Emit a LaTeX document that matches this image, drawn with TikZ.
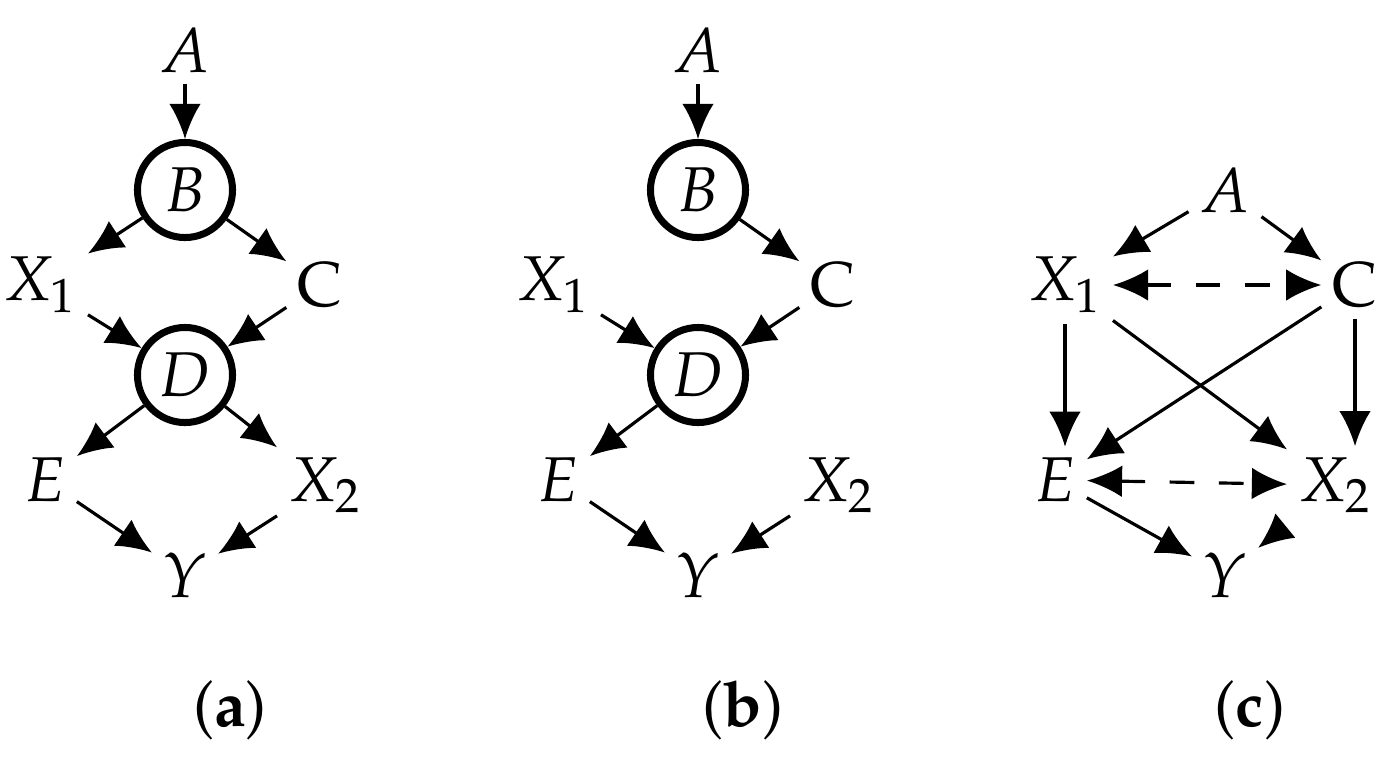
\documentclass[tikz,border=0pt]{standalone}
\usepackage[T1]{fontenc}
\usepackage{mathpazo}
\usetikzlibrary{positioning,arrows.meta}
\tikzset{var/.style={inner sep=3pt, font=\fontsize{18}{20}\selectfont},
  lat/.style={var, draw, circle, line width=2pt, minimum size=0.95cm, inner sep=1pt},
  arr/.style={-{Latex[length=10pt,width=9pt]}, line width=0.9pt},
  barr/.style={{Latex[length=10pt,width=9pt]}-{Latex[length=10pt,width=9pt]}, line width=0.9pt, dash pattern=on 7pt off 7pt},
  sublabel/.style={font=\fontsize{18}{20}\selectfont}}
\begin{document}
\begin{tikzpicture}[x=0.01cm,y=-0.01cm]
\useasboundingbox (0,0) rectangle (1397,757);
% (a)
\node[var](aA) at (185,50) {$A$};
\node[lat](aB) at (185,190) {$B$};
\node[var](aX1) at (40,285) {$X_1$};
\node[var](aC) at (320,285) {$\mathrm{C}$};
\node[lat](aD) at (185,375) {$D$};
\node[var](aE) at (45,480) {$E$};
\node[var](aX2) at (325,485) {$X_2$};
\node[var](aY) at (185,575) {$Y$};
\node[sublabel](la) at (230,710) {(\textbf{a})};
\draw[arr] (aA) -- (aB);
\draw[arr] (aB) -- (aX1);
\draw[arr] (aB) -- (aC);
\draw[arr] (aX1) -- (aD);
\draw[arr] (aC) -- (aD);
\draw[arr] (aD) -- (aE);
\draw[arr] (aD) -- (aX2);
\draw[arr] (aE) -- (aY);
\draw[arr] (aX2) -- (aY);
% (b)
\node[var](bA) at (698,50) {$A$};
\node[lat](bB) at (698,190) {$B$};
\node[var](bX1) at (553,285) {$X_1$};
\node[var](bC) at (833,285) {$\mathrm{C}$};
\node[lat](bD) at (698,375) {$D$};
\node[var](bE) at (558,480) {$E$};
\node[var](bX2) at (838,485) {$X_2$};
\node[var](bY) at (698,575) {$Y$};
\node[sublabel](lb) at (743,710) {(\textbf{b})};
\draw[arr] (bA) -- (bB);
\draw[arr] (bB) -- (bC);
\draw[arr] (bX1) -- (bD);
\draw[arr] (bC) -- (bD);
\draw[arr] (bD) -- (bE);
\draw[arr] (bE) -- (bY);
\draw[arr] (bX2) -- (bY);
% (c)
\node[var](cA) at (1225,190) {$A$};
\node[var](cX1) at (1065,285) {$X_1$};
\node[var](cC) at (1355,285) {$\mathrm{C}$};
\node[var](cE) at (1055,480) {$E$};
\node[var](cX2) at (1335,485) {$X_2$};
\node[var](cY) at (1225,575) {$Y$};
\node[sublabel](lc) at (1250,710) {(\textbf{c})};
\draw[arr] (cA) -- (cX1);
\draw[arr] (cA) -- (cC);
\draw[barr] (cX1) -- (cC);
\draw[arr] (cX1.south) -- (cX1.south |- cE.north);
\draw[arr] (cC.south) -- (cC.south |- cX2.north);
\draw[arr] (cX1) -- (cX2);
\draw[arr] (cC) -- (cE);
\draw[barr] (cE) -- (cX2);
\draw[arr] (cE) -- (cY);
\draw[arr, shorten <=4pt] (cX2) -- (cY);
\end{tikzpicture}
\end{document}
